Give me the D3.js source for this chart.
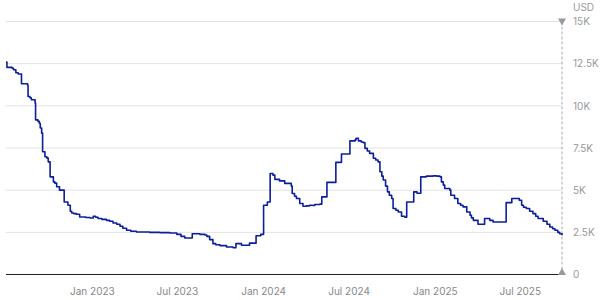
<!DOCTYPE html>
<html><head><meta charset="utf-8">
<script src="https://cdn.jsdelivr.net/npm/d3@7"></script>
<style>
html,body{margin:0;padding:0;background:#fff;}
svg{display:block;font-family:Inter, "Noto Sans", sans-serif;}
</style></head>
<body><svg id="c" width="600" height="300"></svg>
<script>
const dates = ["2022-07-02","2022-07-04","2022-07-15","2022-07-18","2022-07-23","2022-07-28","2022-08-04","2022-08-17","2022-08-18","2022-08-22","2022-08-25","2022-09-02","2022-09-03","2022-09-08","2022-09-11","2022-09-13","2022-09-16","2022-09-18","2022-09-23","2022-09-27","2022-09-30","2022-10-04","2022-10-11","2022-10-14","2022-10-18","2022-10-24","2022-11-03","2022-11-11","2022-11-16","2022-11-19","2022-11-23","2022-11-29","2022-12-06","2022-12-19","2022-12-28","2023-01-04","2023-01-09","2023-01-14","2023-01-22","2023-02-01","2023-02-08","2023-02-15","2023-02-23","2023-03-02","2023-03-08","2023-03-16","2023-03-25","2023-04-06","2023-05-04","2023-05-26","2023-06-16","2023-07-01","2023-07-10","2023-07-18","2023-08-03","2023-08-19","2023-08-30","2023-09-03","2023-09-09","2023-09-16","2023-09-22","2023-10-01","2023-10-15","2023-10-29","2023-11-04","2023-11-16","2023-12-03","2023-12-17","2023-12-27","2024-01-02","2024-01-10","2024-01-16","2024-01-22","2024-01-26","2024-02-05","2024-02-16","2024-03-01","2024-03-03","2024-03-08","2024-03-12","2024-03-19","2024-03-26","2024-04-02","2024-04-09","2024-04-16","2024-04-20","2024-05-01","2024-05-05","2024-05-16","2024-06-04","2024-06-16","2024-07-04","2024-07-15","2024-07-17","2024-07-22","2024-07-28","2024-08-01","2024-08-05","2024-08-10","2024-08-15","2024-08-23","2024-08-28","2024-09-02","2024-09-06","2024-09-10","2024-09-13","2024-09-18","2024-09-22","2024-09-26","2024-10-01","2024-10-04","2024-10-10","2024-10-15","2024-10-22","2024-10-29","2024-11-02","2024-11-17","2024-11-24","2024-12-02","2024-12-14","2024-12-28","2025-01-05","2025-01-12","2025-01-15","2025-01-19","2025-01-22","2025-02-02","2025-02-04","2025-02-12","2025-02-19","2025-02-25","2025-03-02","2025-03-10","2025-03-17","2025-03-20","2025-03-24","2025-04-03","2025-04-17","2025-04-28","2025-05-05","2025-06-02","2025-06-14","2025-06-30","2025-07-05","2025-07-09","2025-07-15","2025-07-22","2025-07-29","2025-08-04","2025-08-09","2025-08-20","2025-08-28","2025-09-03","2025-09-09","2025-09-14","2025-09-20","2025-09-24","2025-09-29"];
const prices = [12590,12280,12230,12140,11960,11890,11310,11220,10550,10480,10360,10160,9170,9080,8970,8690,8380,7280,6980,6900,6680,5790,5490,5420,5200,5000,4300,4110,3750,3650,3610,3570,3410,3380,3350,3450,3390,3320,3270,3210,3160,3050,2980,2860,2740,2620,2560,2520,2500,2480,2460,2380,2260,2160,2420,2380,2340,2260,2070,1830,1760,1710,1630,1590,1830,1730,1860,2300,2380,4110,4300,5990,5890,5640,5550,5400,5240,4800,4640,4510,4210,4050,4070,4110,4090,4150,4170,4600,5460,6650,7140,7920,7980,8080,7920,7860,7820,7480,7320,7180,6890,6790,6680,6090,5830,5600,5240,4900,4700,4510,3910,3810,3710,3450,3390,4300,4900,4820,5790,5830,5850,5830,5790,5490,5300,5100,5000,4700,4510,4210,4110,4010,3710,3510,3360,3210,2980,3320,3210,3110,4260,4510,4400,4110,3990,3910,3750,3610,3450,3320,3160,2980,2820,2710,2620,2500,2420,2320];
const yTicks = [0,2500,5000,7500,10000,12500,15000];
const yTickLabels = ["0","2.5K","5K","7.5K","10K","12.5K","15K"];
const xTicks = ["2023-01-01","2023-07-01","2024-01-01","2024-07-01","2025-01-01","2025-07-01"];
const xTickLabels = ["Jan 2023","Jul 2023","Jan 2024","Jul 2024","Jan 2025","Jul 2025"];
const unitLabel = "USD";

const parse = d3.utcParse("%Y-%m-%d");
const data = dates.map((d,i)=>({date:parse(d), v:prices[i]}));

const L=6, R=562, T=21.5, B=274.5;
const svg = d3.select("#c");
const x = d3.scaleUtc().domain([parse("2022-07-02"), parse("2025-09-29")]).range([L,R]);
const y = d3.scaleLinear().domain([0,15000]).range([B,T]);

// gridlines
svg.append("g").selectAll("line").data(yTicks.filter(t=>t>0)).join("line")
  .attr("x1",L).attr("x2",R).attr("y1",d=>y(d)).attr("y2",d=>y(d))
  .attr("stroke","#e3e3e3").attr("stroke-width",1);

// baseline
svg.append("line").attr("x1",L).attr("x2",R).attr("y1",y(0)).attr("y2",y(0))
  .attr("stroke","#222").attr("stroke-width",1);

// right dashed axis
svg.append("line").attr("x1",R).attr("x2",R).attr("y1",y(15000)).attr("y2",y(0))
  .attr("stroke","#aaa").attr("stroke-width",1).attr("stroke-dasharray","3,2");
svg.append("path").attr("d",`M${R-4},${y(15000)-3}L${R+4},${y(15000)-3}L${R},${y(15000)+4}Z`).attr("fill","#999");
svg.append("path").attr("d",`M${R-4},${y(0)+0.5}L${R+4},${y(0)+0.5}L${R},${y(0)-6.5}Z`).attr("fill","#999");

// y labels
const yAxis = d3.axisRight(y).tickValues(yTicks).tickSize(0).tickPadding(11)
  .tickFormat((d,i)=>yTickLabels[i]);
const gy = svg.append("g").attr("transform",`translate(${R},0)`).call(yAxis);
gy.select(".domain").remove();
gy.selectAll("text").attr("fill","#999").style("font-size","10px").style("font-family","Inter, sans-serif");
svg.append("text").attr("x",R+11).attr("y",y(15000)-11).attr("fill","#999")
  .style("font-size","10px").text(unitLabel);

// x labels
const xAxis = d3.axisBottom(x).tickValues(xTicks.map(parse)).tickSize(0).tickPadding(13)
  .tickFormat((d,i)=>xTickLabels[i]);
const gx = svg.append("g").attr("transform",`translate(0,${B})`).call(xAxis);
gx.select(".domain").remove();
gx.selectAll("text").attr("fill","#888").style("font-size","10px").style("font-family","Inter, sans-serif");

// line
const line = d3.line().x(d=>x(d.date)).y(d=>y(d.v)).curve(d3.curveStepAfter);
svg.append("path").datum(data).attr("d",line).attr("fill","none")
  .attr("stroke","#0a1e9e").attr("stroke-width",1.6).attr("stroke-linejoin","round");
</script></body></html>
